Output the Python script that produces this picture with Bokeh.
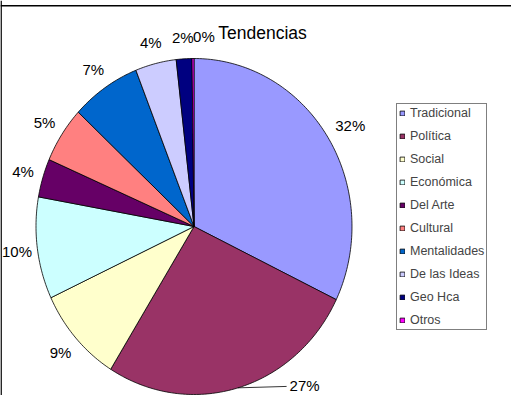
import numpy as np
from bokeh.plotting import figure
from bokeh.models import Range1d, Span, Label, Legend, LegendItem, ColumnDataSource
from bokeh.embed import file_html
from bokeh.resources import INLINE
from bokeh.core.properties import value

# ---------------- data ----------------
categories = ["Tradicional", "Política", "Social", "Económica", "Del Arte",
              "Cultural", "Mentalidades", "De las Ideas", "Geo Hca", "Otros"]
shares = [32.2, 26.7, 9.2, 9.8, 3.7, 5.4, 7.1, 4.2, 1.6, 0.2]
colors = ["#9999FF", "#993366", "#FFFFCC", "#CCFFFF", "#660066",
          "#FF8080", "#0066CC", "#CCCCFF", "#000080", "#FF00FF"]
title_text = "Tendencias"

# ---------------- layout ----------------
W, H = 511, 395
CX, CY = 193.5, 226.0      # pie centre in canvas px (from left, from top)
RX, RY = 158.0, 168.0      # pie radii in px (slightly elliptical like the original)
LABEL_R = 1.13
FONT = "Liberation Sans"

p = figure(width=W, height=H, output_backend="svg", toolbar_location=None,
           x_range=Range1d(-CX / RX, (W - CX) / RX),
           y_range=Range1d(-(H - CY) / RY, CY / RY),
           min_border=0, min_border_left=0, min_border_right=0,
           min_border_top=0, min_border_bottom=0)
p.axis.visible = False
p.grid.visible = False
p.outline_line_color = None
p.background_fill_color = "white"
p.border_fill_color = "white"

vals = np.array(shares, dtype=float)
total = vals.sum()
frac = vals / total
cum = np.concatenate([[0.0], np.cumsum(frac)])

xs, ys = [], []
for i in range(len(vals)):
    t = np.linspace(cum[i], cum[i + 1], max(3, int(frac[i] * 360) + 2))
    th = np.pi / 2 - 2 * np.pi * t
    xs.append(list(np.concatenate([[0.0], np.cos(th), [0.0]])))
    ys.append(list(np.concatenate([[0.0], np.sin(th), [0.0]])))

src = ColumnDataSource(dict(xs=xs, ys=ys, color=colors, cat=categories))
r = p.patches("xs", "ys", source=src, fill_color="color",
              line_color="black", line_width=0.8)

# ---------------- percentage labels ----------------
mid = np.pi / 2 - 2 * np.pi * (cum[:-1] + frac / 2)
lx = list(LABEL_R * np.cos(mid))
ly = list(LABEL_R * np.sin(mid))
texts = [f"{int(round(f * 100))}%" for f in frac]

# Excel moved a few labels to avoid collisions / the chart edge
i_trad = categories.index("Tradicional")
lx[i_trad] += 5 / RX
i_otros = categories.index("Otros")
lx[i_otros] += 11 / RX
i_pol = categories.index("Política")
lx[i_pol], ly[i_pol] = 0.70, -0.946

p.text(x=lx, y=ly, text=texts, text_align="center", text_baseline="middle",
       text_font=value(FONT), text_font_size="15px", text_color="black")

# leader line for the moved label
p.segment(x0=[np.cos(mid[i_pol])], y0=[np.sin(mid[i_pol])],
          x1=[lx[i_pol] - 18 / RX], y1=[ly[i_pol] - 1 / RY],
          line_color="black", line_width=0.8)

# ---------------- title ----------------
p.add_layout(Label(x=(262 - CX) / RX, y=(CY - 32.7) / RY, text=title_text,
                   text_align="center", text_baseline="alphabetic",
                   text_font=FONT, text_font_size="17.5px", text_color="black"))

# ---------------- chart border (only top/left visible in crop) ----------------
p.add_layout(Span(location=-CX / RX + 0.6 / RX, dimension="height",
                  line_color="black", line_width=1.5))
p.add_layout(Span(location=CY / RY - 5.3 / RY, dimension="width",
                  line_color="black", line_width=1.5))

# ---------------- legend ----------------
items = [LegendItem(label=c, renderers=[r], index=i) for i, c in enumerate(categories)]
legend = Legend(items=items, location=(396, 65),
                border_line_color="black", border_line_width=1,
                background_fill_color="white", background_fill_alpha=1,
                label_text_font=FONT, label_text_font_size="12.5px",
                glyph_width=6, glyph_height=6, label_height=14, spacing=9,
                padding=2, label_standoff=5, margin=0)
p.add_layout(legend)

open("out.html", "w").write(file_html(p, INLINE))
